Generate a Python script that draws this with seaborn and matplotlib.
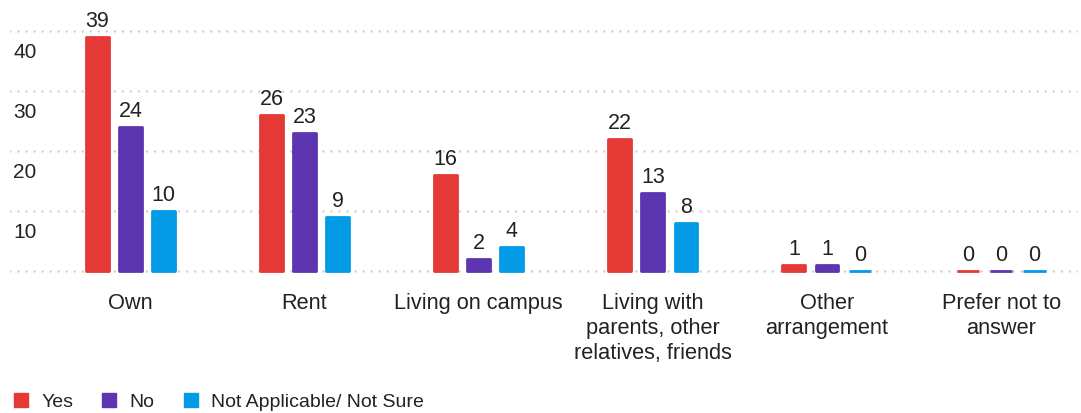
import matplotlib
matplotlib.use("Agg")
import matplotlib.pyplot as plt
import seaborn as sns
import pandas as pd
from matplotlib.lines import Line2D
from matplotlib.transforms import ScaledTranslation

# Housing situation by response
categories = [
    "Own",
    "Rent",
    "Living on campus",
    "Living with\nparents, other\nrelatives, friends",
    "Other\narrangement",
    "Prefer not to\nanswer",
]
series_names = ["Yes", "No", "Not Applicable/ Not Sure"]
yes_values = [39, 26, 16, 22, 1, 0]
no_values = [24, 23, 2, 13, 1, 0]
na_values = [10, 9, 4, 8, 0, 0]
y_ticks = [10, 20, 30, 40]
colors = ["#E53935", "#5E35B1", "#039BE5"]

rows = []
for name, vals in zip(series_names, [yes_values, no_values, na_values]):
    for cat, v in zip(categories, vals):
        rows.append({"category": cat, "response": name, "count": v})
df = pd.DataFrame(rows)

sns.set_theme(style="white")
plt.rcParams["font.family"] = ["Liberation Sans", "DejaVu Sans"]
text_color = "#222222"

fig = plt.figure(figsize=(10.81, 4.14), dpi=100)
ax = fig.add_axes([0.00925, 0.3357, 0.988, 0.6159])

sns.barplot(
    data=df, x="category", y="count", hue="response",
    order=categories, hue_order=series_names, palette=colors,
    saturation=1, width=0.57, gap=0.31, ax=ax, legend=False, zorder=3,
)
for patch, c in zip(ax.patches, [c for c in colors for _ in categories]):
    patch.set_edgecolor(c)
    patch.set_linewidth(2)
    patch.set_joinstyle("round")

for cont in ax.containers:
    ax.bar_label(cont, padding=4, fontsize=15.5, color=text_color)

ax.set_xlim(-0.692, 5.442)
ax.set_ylim(-0.5, 42)

# dotted horizontal guides
for v in [0] + y_ticks:
    ax.axhline(v, color="#cfcfcf", lw=1.8, linestyle=(0, (0.01, 3.2)),
               dash_capstyle="round", zorder=1)

ax.set_yticks([])
ax.set_ylabel("")
ax.set_xlabel("")
shift = ScaledTranslation(0, -0.2, fig.dpi_scale_trans)
for v in y_ticks:
    ax.text(0.003, v, str(v), transform=ax.get_yaxis_transform() + shift,
            ha="left", va="center", fontsize=15, color=text_color)

ax.tick_params(axis="x", length=0, pad=13, labelsize=15.7, labelcolor=text_color)
for lab in ax.get_xticklabels():
    lab.set_linespacing(1.24)
for s in ax.spines.values():
    s.set_visible(False)

handles = [Line2D([], [], marker="s", markersize=10.5, linestyle="none",
                  markerfacecolor=c, markeredgecolor=c) for c in colors]
fig.legend(handles, series_names, loc="lower left", bbox_to_anchor=(-0.005, -0.036),
           ncol=3, frameon=False, fontsize=14, handlelength=0.9,
           handletextpad=0.6, columnspacing=1.4, labelcolor=text_color)

fig.savefig("out.png", dpi=100)
